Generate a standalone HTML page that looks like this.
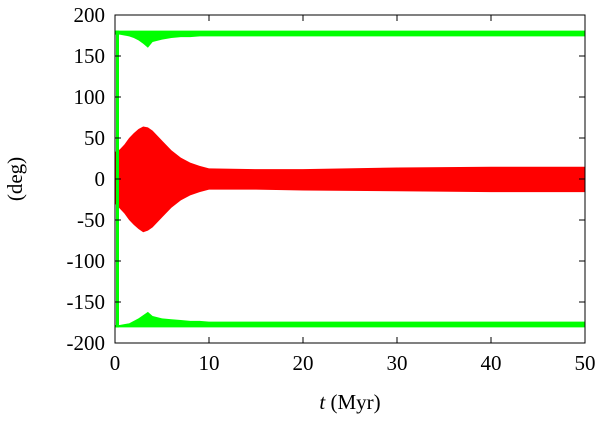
<!DOCTYPE html>
<html><head><meta charset="utf-8"><style>
body{margin:0;background:#fff}
text{font-family:"Liberation Serif",serif;font-size:21px;fill:#000}
</style></head><body>
<svg width="600" height="417">
<g id="marks"></g>
<g id="axes"></g>
</svg>
<script>
const tPts=[0,0.5,1,1.5,2,2.5,3,3.5,4,5,6,7,8,9,10,15,20,30,40,50];
const redUpper=[33,36,42,50,56,61,64,63,59,47,35,26,20,16,13,12,12,14,15,15];
const redLower=[-30,-36,-42,-50,-56,-61,-65,-63,-59,-47,-35,-26,-20,-16,-13,-13,-14,-15,-16,-16];
const gTopUpper=[181,181,181,181,181,181,181,181,181,181,181,181,181,181,181,181,181,181,181,181];
const gTopLower=[176,176,175,174,172,169,165,160,167,170,172,173,173,174,174,174,174,174,174,174];
const gBotUpper=[-178,-178,-177,-176,-173,-170,-166,-162,-167,-170,-171,-172,-173,-173,-174,-174,-174,-174,-174,-174];
const gBotLower=[-181,-181,-181,-181,-181,-181,-181,-181,-181,-181,-181,-181,-181,-181,-181,-181,-181,-181,-181,-181];
const xTicks=[0,10,20,30,40,50];
const yTicks=[-200,-150,-100,-50,0,50,100,150,200];
const X0=115,X1=585,Y0=343,Y1=15;
const sx=t=>X0+(t-0)/(50-0)*(X1-X0);
const sy=v=>Y0-(v+200)/400*(Y0-Y1);
const NS="http://www.w3.org/2000/svg";
const marks=document.getElementById('marks'),axes=document.getElementById('axes');
function band(up,lo,color,name){
  let p=tPts.map((t,i)=>sx(t)+','+sy(up[i]));
  for(let i=tPts.length-1;i>=0;i--)p.push(sx(tPts[i])+','+sy(lo[i]));
  const e=document.createElementNS(NS,'polygon');
  e.setAttribute('points',p.join(' '));e.setAttribute('fill',color);
  
  
  marks.appendChild(e);
}
band(redUpper,redLower,'#ff0000','red-band');
band(gTopUpper,gTopLower,'#00ff00','green-band-top');
band(gBotUpper,gBotLower,'#00ff00','green-band-bottom');
const vl=document.createElementNS(NS,'rect');
vl.setAttribute('x',sx(0)+1);vl.setAttribute('y',sy(181));vl.setAttribute('width',3);vl.setAttribute('height',sy(-181)-sy(181));vl.setAttribute('fill','#00ff00');


marks.appendChild(vl);
const fr=document.createElementNS(NS,'rect');
fr.setAttribute('x',X0);fr.setAttribute('y',Y1);fr.setAttribute('width',X1-X0);fr.setAttribute('height',Y0-Y1);
fr.setAttribute('fill','none');fr.setAttribute('stroke','#000');fr.setAttribute('stroke-width','1');


axes.appendChild(fr);
function ln(x1,y1,x2,y2){const l=document.createElementNS(NS,'line');l.setAttribute('x1',x1);l.setAttribute('y1',y1);l.setAttribute('x2',x2);l.setAttribute('y2',y2);l.setAttribute('stroke','#000');axes.appendChild(l);return l;}
function tx(x,y,s,anchor,name){const e=document.createElementNS(NS,'text');e.setAttribute('x',x);e.setAttribute('y',y);e.setAttribute('text-anchor',anchor);e.textContent=s;


axes.appendChild(e);return e;}
xTicks.forEach(t=>{const x=sx(t);ln(x,Y0,x,Y0-6);ln(x,Y1,x,Y1+6);tx(x,Y0+27,String(t),'middle','x-tick-label');});
yTicks.forEach(v=>{const y=sy(v);ln(X0,y,X0+6,y);ln(X1,y,X1-6,y);tx(X0-10,y+7,String(v),'end','y-tick-label');});
const xt=tx(350,409,'','middle','x-axis-title');
xt.innerHTML='<tspan font-style="italic">t</tspan> (Myr)';
const yt=tx(0,0,'(deg)','middle','y-axis-title');
yt.setAttribute('transform','translate(22,179) rotate(-90)');
</script>
</body></html>
